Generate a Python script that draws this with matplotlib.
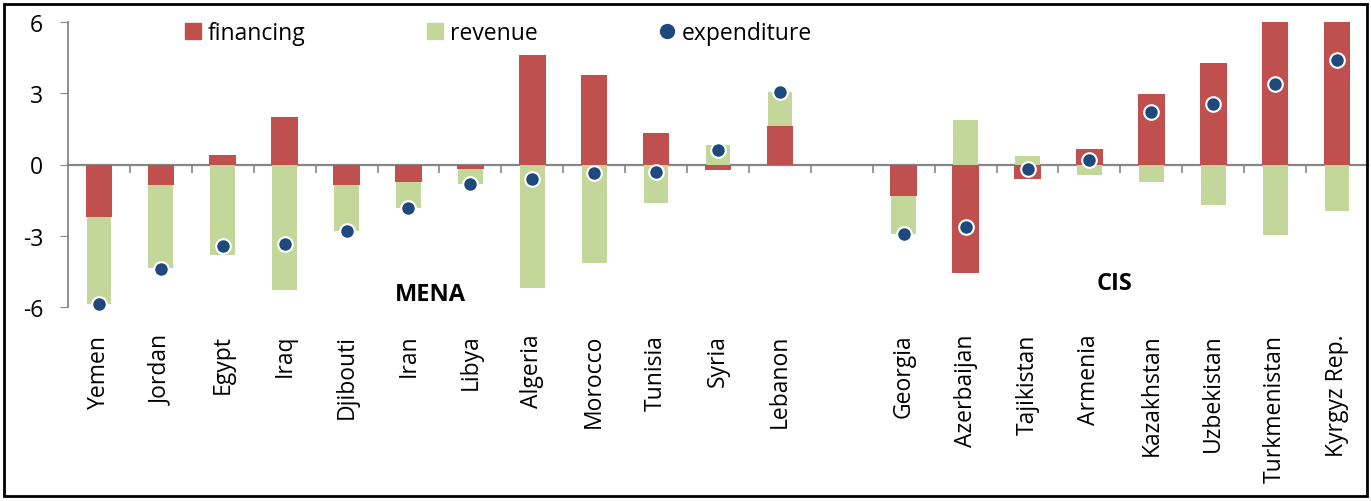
import numpy as np
import matplotlib.pyplot as plt
from matplotlib.patches import Rectangle, Patch
from matplotlib.lines import Line2D

plt.rcParams['font.family'] = ['Open Sans', 'DejaVu Sans']

# MENA group
mena = ['Yemen', 'Jordan', 'Egypt', 'Iraq', 'Djibouti', 'Iran', 'Libya',
        'Algeria', 'Morocco', 'Tunisia', 'Syria', 'Lebanon']
fin_mena = [-2.20, -0.88, 0.42, 1.99, -0.88, -0.74, -0.18, 4.62, 3.77, 1.33, -0.24, 1.61]
rev_mena = [-3.65, -3.48, -3.82, -5.28, -1.92, -1.09, -0.63, -5.21, -4.12, -1.61, 0.84, 1.43]
exp_mena = [-5.88, -4.38, -3.43, -3.33, -2.80, -1.83, -0.81, -0.60, -0.35, -0.31, 0.63, 3.04]

# CIS group
cis = ['Georgia', 'Azerbaijan', 'Tajikistan', 'Armenia', 'Kazakhstan',
       'Uzbekistan', 'Turkmenistan', 'Kyrgyz Rep.']
fin_cis = [-1.33, -4.55, -0.60, 0.67, 2.96, 4.27, 6.36, 6.37]
rev_cis = [-1.60, 1.89, 0.34, -0.45, -0.74, -1.71, -2.97, -1.96]
exp_cis = [-2.93, -2.62, -0.21, 0.20, 2.20, 2.55, 3.39, 4.41]

red = '#C0504D'
green = '#C4D79B'
blue = '#1F497D'
grey = '#868686'

labels = mena + [''] + cis
fin = np.array(fin_mena + [np.nan] + fin_cis)
rev = np.array(rev_mena + [np.nan] + rev_cis)
exp = np.array(exp_mena + [np.nan] + exp_cis)
x = np.arange(len(labels))

# excel-style stacking: positives on positives, negatives on negatives
rev_bottom = np.where(np.sign(rev) == np.sign(fin), fin, 0)

fig = plt.figure(figsize=(13.71, 5.02), dpi=100)
ax = fig.add_axes([68 / 1371, 193.7 / 502, 1300 / 1371, 285.6 / 502])

ax.bar(x, fin, width=0.43, color=red, zorder=2)
ax.bar(x, rev, width=0.40, bottom=rev_bottom, color=green, zorder=2)
ax.plot(x, exp, 'o', color=blue, markersize=10.5, markeredgecolor='white',
        markeredgewidth=1.5, zorder=4, clip_on=False)

ax.set_xlim(-0.5, len(labels) - 0.5)
ax.set_ylim(-6, 6)
ax.set_yticks([-6, -3, 0, 3, 6])
ax.set_yticklabels(['-6', '-3', '0', '3', '6'])
ax.tick_params(axis='y', length=6, color=grey, pad=12, labelsize=16.5)

ax.set_xticks(x)
ax.set_xticklabels(labels, rotation=90, va='top', ha='center')
ax.tick_params(axis='x', length=0, pad=19, labelsize=16.5)

for s in ['top', 'right', 'bottom']:
    ax.spines[s].set_visible(False)
ax.spines['left'].set_color(grey)
ax.spines['left'].set_linewidth(1.3)

# zero line with category separators, ticks hanging down
zero = ax.secondary_xaxis(0.5)
zero.set_alignment('bottom')
zero.set_xticks(np.arange(0.5, len(labels) - 1))
zero.set_xticklabels([])
zero.tick_params(length=6, color=grey, width=1.2, direction='out')
zero.spines['bottom'].set_color(grey)
zero.spines['bottom'].set_linewidth(1.6)
zero.spines['top'].set_visible(False)

ax.text(5.35, -5.45, 'MENA', fontsize=17, fontweight='bold', ha='center', va='center')
ax.text(16.4, -5.0, 'CIS', fontsize=17, fontweight='bold', ha='center', va='center')

handles = [Patch(color=red), Patch(color=green),
           Line2D([], [], marker='o', ls='', color=blue, markersize=10)]
ax.legend(handles, ['financing', 'revenue', 'expenditure'], ncol=3, frameon=False,
          loc='center', bbox_to_anchor=(0.331, 0.96), fontsize=16.5,
          handlelength=0.7, handleheight=0.7, handletextpad=0.3,
          columnspacing=5.3, borderpad=0)

fig.patches.append(Rectangle((4 / 1371, 5 / 502), 1363 / 1371, 492 / 502,
                             transform=fig.transFigure, fill=False,
                             edgecolor='black', linewidth=2))

fig.savefig('out.png', dpi=100)
